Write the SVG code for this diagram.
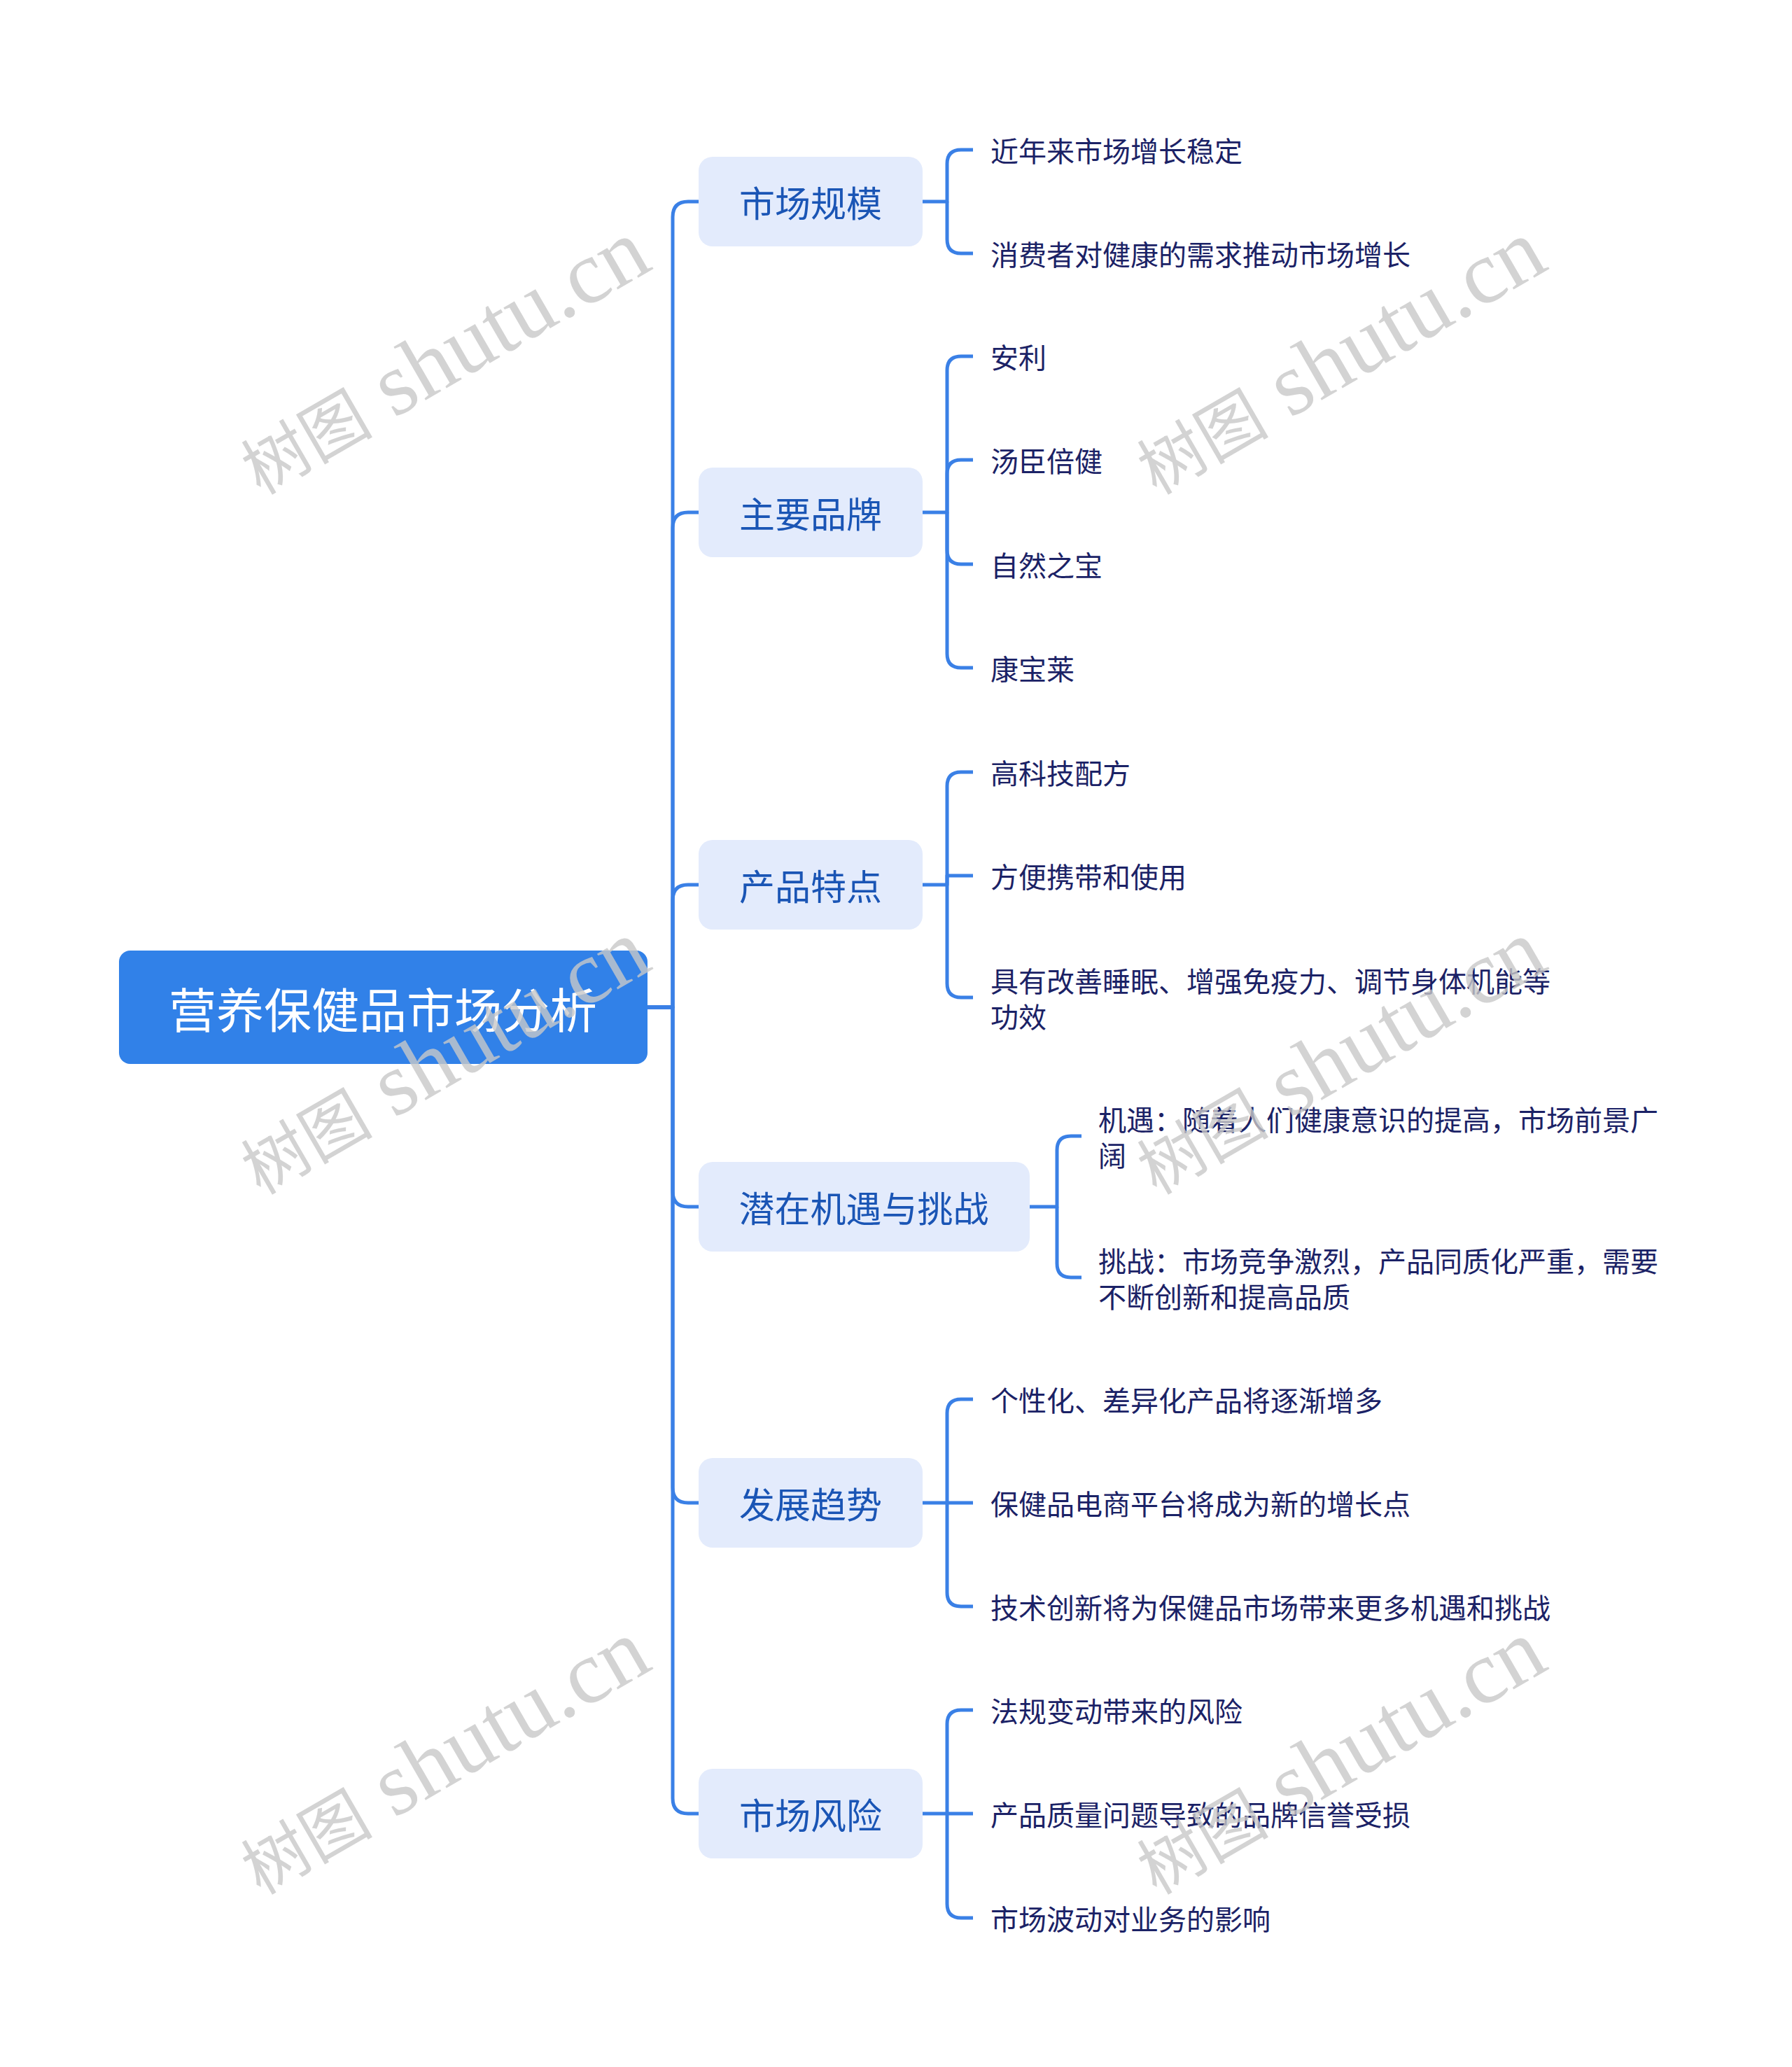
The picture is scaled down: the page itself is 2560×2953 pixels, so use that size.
<svg xmlns="http://www.w3.org/2000/svg" width="2560" height="2953" viewBox="0 0 2560 2953">
<style>
  text { font-family: "Noto Sans CJK SC", "Noto Sans", sans-serif; dominant-baseline: central; }
  .root-box { fill: #3181E8; }
  .root-text { fill: #FFFFFF; font-size: 68px; text-anchor: middle; }
  .l1-box { fill: #E3EBFC; }
  .l1-text { fill: #1A55B5; font-size: 51px; text-anchor: middle; }
  .leaf { fill: #1B2266; font-size: 40px; }
  .conn { fill: none; stroke: #3A80E6; stroke-width: 5; stroke-linejoin: round; }
  .wm { font-family: "Liberation Serif", "Noto Sans CJK SC", serif; fill: #C8C8C8; fill-opacity: 0.8; dominant-baseline: alphabetic; }
  .wm .cjk { font-size: 94px; }
  .wm .lat { font-size: 128px; }
</style>
<rect width="2560" height="2953" fill="#FFFFFF"/>

<g id="connectors">
  <path class="conn" d="M925,1439 H961 V310 Q961,288 983,288 H998"/>
  <path class="conn" d="M925,1439 H961 V754 Q961,732 983,732 H998"/>
  <path class="conn" d="M925,1439 H961 V1286 Q961,1264 983,1264 H998"/>
  <path class="conn" d="M925,1439 H961 V1702 Q961,1724 983,1724 H998"/>
  <path class="conn" d="M925,1439 H961 V2125 Q961,2147 983,2147 H998"/>
  <path class="conn" d="M925,1439 H961 V2569 Q961,2591 983,2591 H998"/>

  <path class="conn" d="M1318,288 H1353 V234 Q1353,214 1373,214 H1390"/>
  <path class="conn" d="M1353,288 V342 Q1353,362 1373,362 H1390"/>

  <path class="conn" d="M1318,732 H1353 V529 Q1353,509 1373,509 H1390"/>
  <path class="conn" d="M1353,732 V677 Q1353,657 1373,657 H1390"/>
  <path class="conn" d="M1353,732 V786 Q1353,806 1373,806 H1390"/>
  <path class="conn" d="M1353,732 V934 Q1353,954 1373,954 H1390"/>

  <path class="conn" d="M1318,1264 H1353 V1123 Q1353,1103 1373,1103 H1390"/>
  <path class="conn" d="M1353,1264 V1251 H1390"/>
  <path class="conn" d="M1353,1264 V1405 Q1353,1425 1373,1425 H1390"/>

  <path class="conn" d="M1471,1724 H1510 V1643 Q1510,1623 1530,1623 H1545"/>
  <path class="conn" d="M1510,1724 V1805 Q1510,1825 1530,1825 H1545"/>

  <path class="conn" d="M1318,2147 H1353 V2019 Q1353,1999 1373,1999 H1390"/>
  <path class="conn" d="M1353,2147 H1390"/>
  <path class="conn" d="M1353,2147 V2275 Q1353,2295 1373,2295 H1390"/>

  <path class="conn" d="M1318,2591 H1353 V2463 Q1353,2443 1373,2443 H1390"/>
  <path class="conn" d="M1353,2591 H1390"/>
  <path class="conn" d="M1353,2591 V2720 Q1353,2740 1373,2740 H1390"/>
</g>

<g id="root">
  <rect class="root-box" x="170" y="1358" width="755" height="162" rx="16"/>
  <text class="root-text" x="547" y="1439">营养保健品市场分析</text>
</g>

<g id="n-scale">
  <rect class="l1-box" x="998" y="224" width="320" height="128" rx="20"/>
  <text class="l1-text" x="1158" y="288">市场规模</text>
</g>
<g id="n-scale-c1"><text class="leaf" x="1415" y="214">近年来市场增长稳定</text></g>
<g id="n-scale-c2"><text class="leaf" x="1415" y="362">消费者对健康的需求推动市场增长</text></g>

<g id="n-brand">
  <rect class="l1-box" x="998" y="668" width="320" height="128" rx="20"/>
  <text class="l1-text" x="1158" y="732">主要品牌</text>
</g>
<g id="n-brand-c1"><text class="leaf" x="1415" y="509">安利</text></g>
<g id="n-brand-c2"><text class="leaf" x="1415" y="657">汤臣倍健</text></g>
<g id="n-brand-c3"><text class="leaf" x="1415" y="806">自然之宝</text></g>
<g id="n-brand-c4"><text class="leaf" x="1415" y="954">康宝莱</text></g>

<g id="n-feature">
  <rect class="l1-box" x="998" y="1200" width="320" height="128" rx="20"/>
  <text class="l1-text" x="1158" y="1264">产品特点</text>
</g>
<g id="n-feature-c1"><text class="leaf" x="1415" y="1103">高科技配方</text></g>
<g id="n-feature-c2"><text class="leaf" x="1415" y="1251">方便携带和使用</text></g>
<g id="n-feature-c3"><text class="leaf" x="1415" y="1400">具有改善睡眠、增强免疫力、调节身体机能等<tspan x="1415" dy="51">功效</tspan></text></g>

<g id="n-opportunity">
  <rect class="l1-box" x="998" y="1660" width="473" height="128" rx="20"/>
  <text class="l1-text" x="1234" y="1724">潜在机遇与挑战</text>
</g>
<g id="n-opportunity-c1"><text class="leaf" x="1569" y="1598">机遇：随着人们健康意识的提高，市场前景广<tspan x="1569" dy="51">阔</tspan></text></g>
<g id="n-opportunity-c2"><text class="leaf" x="1569" y="1800">挑战：市场竞争激烈，产品同质化严重，需要<tspan x="1569" dy="51">不断创新和提高品质</tspan></text></g>

<g id="n-trend">
  <rect class="l1-box" x="998" y="2083" width="320" height="128" rx="20"/>
  <text class="l1-text" x="1158" y="2147">发展趋势</text>
</g>
<g id="n-trend-c1"><text class="leaf" x="1415" y="1999">个性化、差异化产品将逐渐增多</text></g>
<g id="n-trend-c2"><text class="leaf" x="1415" y="2147">保健品电商平台将成为新的增长点</text></g>
<g id="n-trend-c3"><text class="leaf" x="1415" y="2295">技术创新将为保健品市场带来更多机遇和挑战</text></g>

<g id="n-risk">
  <rect class="l1-box" x="998" y="2527" width="320" height="128" rx="20"/>
  <text class="l1-text" x="1158" y="2591">市场风险</text>
</g>
<g id="n-risk-c1"><text class="leaf" x="1415" y="2443">法规变动带来的风险</text></g>
<g id="n-risk-c2"><text class="leaf" x="1415" y="2591">产品质量问题导致的品牌信誉受损</text></g>
<g id="n-risk-c3"><text class="leaf" x="1415" y="2740">市场波动对业务的影响</text></g>

<g id="watermarks">
  <text class="wm" transform="translate(372,708) rotate(-30)"><tspan class="cjk">树图</tspan><tspan class="lat"> shutu.cn</tspan></text>
  <text class="wm" transform="translate(1652,708) rotate(-30)"><tspan class="cjk">树图</tspan><tspan class="lat"> shutu.cn</tspan></text>
  <text class="wm" transform="translate(372,1708) rotate(-30)"><tspan class="cjk">树图</tspan><tspan class="lat"> shutu.cn</tspan></text>
  <text class="wm" transform="translate(1652,1708) rotate(-30)"><tspan class="cjk">树图</tspan><tspan class="lat"> shutu.cn</tspan></text>
  <text class="wm" transform="translate(372,2708) rotate(-30)"><tspan class="cjk">树图</tspan><tspan class="lat"> shutu.cn</tspan></text>
  <text class="wm" transform="translate(1652,2708) rotate(-30)"><tspan class="cjk">树图</tspan><tspan class="lat"> shutu.cn</tspan></text>
</g>
</svg>
